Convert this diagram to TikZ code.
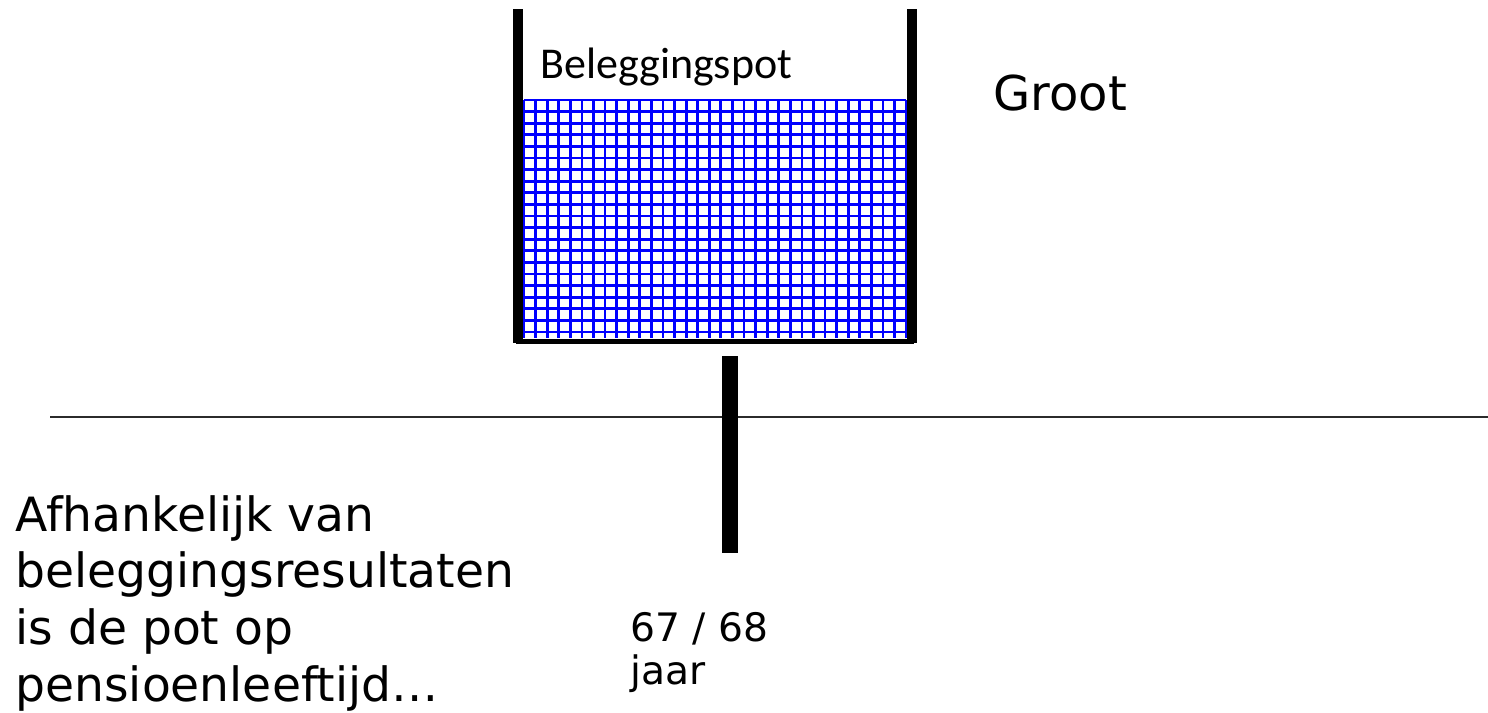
\documentclass[tikz,border=0pt]{standalone}
\usepackage{fontspec}
\setmainfont{DejaVu Sans}
\newfontfamily\potfont{Carlito}
\usepackage{tikz}
\usetikzlibrary{positioning,calc}
\definecolor{potblue}{HTML}{0000FF}
\definecolor{axis}{HTML}{2B2B2B}

\begin{document}
\begin{tikzpicture}[x=0.5pt,y=-0.5pt,
  wall/.style={line width=5pt,color=black},
  label/.style={inner sep=0pt,anchor=base west,align=left},
  grid line/.style={line width=1.4pt,color=potblue}]
  \useasboundingbox (0,0) rectangle (1488,712);
  % contents of the pot
  \fill[white] (524,100) rectangle (906,338);
  \foreach \i in {0,...,33} \draw[grid line] ({524+\i*11.58},100) -- ({524+\i*11.58},338);
  \foreach \j in {0,...,20} \draw[grid line] (524,{100+\j*11.6}) -- (906,{100+\j*11.6});
  % walls of the pot
  \draw[wall] (518,9) -- (518,343);
  \draw[wall] (912,9) -- (912,343);
  \draw[line width=2.5pt] (516,341) -- (914,341);
  \node[label,font=\potfont\fontsize{22}{26}\selectfont] (pot) at (540,78) {Beleggingspot};
  \node[label,font=\fontsize{24}{28}\selectfont] (groot) at (993,110) {Groot};
  % time axis and retirement marker
  \coordinate (axisstart) at (50,417);
  \coordinate (axisend) at (1488,417);
  \draw[axis,line width=1pt] (axisstart) -- (axisend);
  \draw[line width=8pt] (730,356) -- (730,553);
  \node[label,font=\fontsize{19.6}{21.5}\selectfont] (age) at (630,684) {67 / 68\\jaar};
  \node[label,font=\fontsize{23.6}{28.3}\selectfont] (result) at (15,701) {Afhankelijk van\\beleggingsresultaten\\is de pot op\\pensioenleeftijd…};
\end{tikzpicture}
\end{document}
